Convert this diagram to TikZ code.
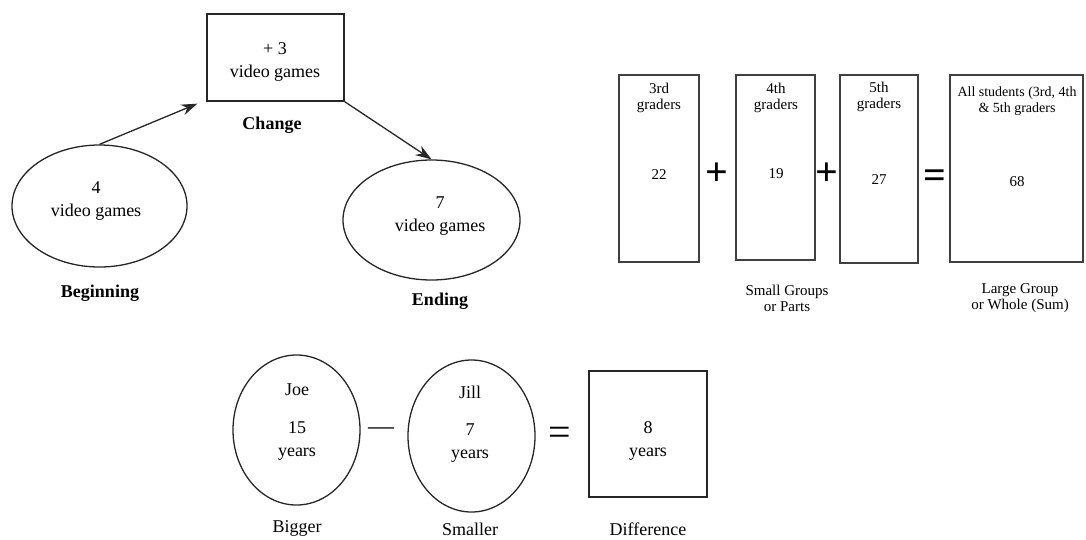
\documentclass[tikz,border=0pt]{standalone}
\usepackage{fontspec}
\setmainfont{Liberation Serif}
\usetikzlibrary{shapes.geometric,arrows.meta}
\begin{document}
\begin{tikzpicture}[x=1pt,y=-1pt,
  ln/.style={line width=1.3pt, draw=black!85},
  oval/.style={ln, ellipse, inner sep=0pt},
  box/.style={ln, rectangle, inner sep=0pt},
  part/.style={line width=2.2pt, draw=black!75, rectangle, inner sep=0pt},
  big/.style={font=\fontsize{18}{23}\selectfont, align=center, inner sep=0pt},
  bigb/.style={font=\fontsize{18}{23}\selectfont\bfseries, align=center, inner sep=0pt},
  small/.style={font=\fontsize{15}{16}\selectfont, align=center, inner sep=0pt},
  sym/.style={font=\fontsize{40}{40}\selectfont\bfseries, inner sep=0pt},
  symlight/.style={font=\fontsize{40}{40}\selectfont, inner sep=0pt},
  arr/.style={ln, -{Stealth[length=16pt,width=11pt]}},
]
\useasboundingbox (0,0) rectangle (1086,539);

% ---- Change problem: beginning, change, ending ----
\node[box, minimum width=137pt, minimum height=87pt] (chg) at (275.5,57.5) {};
\node[big] (chgtxt) at (275,62) {+ 3\\video games};
\node[bigb] (chglbl) at (272,125) {Change};

\node[oval, minimum width=175pt, minimum height=122pt] (beg) at (99.5,206) {};
\node[big] (begtxt) at (96,201) {4\\video games};
\node[bigb] (beglbl) at (100,293) {Beginning};

\node[oval, minimum width=177pt, minimum height=120pt] (end) at (431.5,220) {};
\node[big] (endtxt) at (440,216) {7\\video games};
\node[bigb] (endlbl) at (440,301) {Ending};

\draw[arr] (beg.north) -- ([xshift=-9pt,yshift=-2pt]chg.south west);
\draw[arr] (chg.south east) -- (end.north);

% ---- Part-part-whole: grade groups and their sum ----
\node[part, minimum width=80pt, minimum height=187pt] (g3) at (659,168.5) {};
\node[part, minimum width=79pt, minimum height=185pt] (g4) at (775.5,167.5) {};
\node[part, minimum width=78pt, minimum height=188pt] (g5) at (879,169) {};
\node[part, minimum width=133pt, minimum height=187pt] (all) at (1016.5,168.5) {};

\node[small] (g3h) at (659,98) {3rd\\graders};
\node[small] (g4h) at (776,98) {4th\\graders};
\node[small] (g5h) at (879,97) {5th\\graders};
\node[small, font=\fontsize{14}{16}\selectfont] (allh) at (1017,101) {All students (3rd, 4th\\\& 5th graders};

\node[small] (g3n) at (659,175) {22};
\node[small] (g4n) at (776,174) {19};
\node[small] (g5n) at (879,180) {27};
\node[small] (alln) at (1017,182) {68};

\node[sym] (p1) at (717,174) {+};
\node[sym] (p2) at (827,174) {+};
\node[sym] (eq1) at (935,179) {=};

\node[small] (partslbl) at (787,298) {Small Groups\\or Parts};
\node[small] (wholelbl) at (1020,298) {Large Group\\or Whole (Sum)};

% ---- Comparison: bigger minus smaller ----
\node[oval, minimum width=127pt, minimum height=150pt] (joe) at (296.5,430) {};
\node[oval, minimum width=127pt, minimum height=152pt] (jill) at (471.5,436) {};
\node[box, minimum width=118pt, minimum height=126pt] (diff) at (648,434) {};

\node[big] (joename) at (297,390) {Joe};
\node[big] (joeage) at (297,441) {15\\years};
\node[big] (jillname) at (470,392) {Jill};
\node[big] (jillage) at (470,443) {7\\years};
\node[big] (difftxt) at (648,441) {8\\years};

\node[symlight] (minus) at (381,431) {\fontsize{26}{26}\selectfont —};
\node[symlight] (eq2) at (560,436) {=};

\node[big] (biglbl) at (297,528) {Bigger};
\node[big] (smalllbl) at (470,529) {Smaller};
\node[big] (difflbl) at (648,529) {Difference};
\end{tikzpicture}
\end{document}
